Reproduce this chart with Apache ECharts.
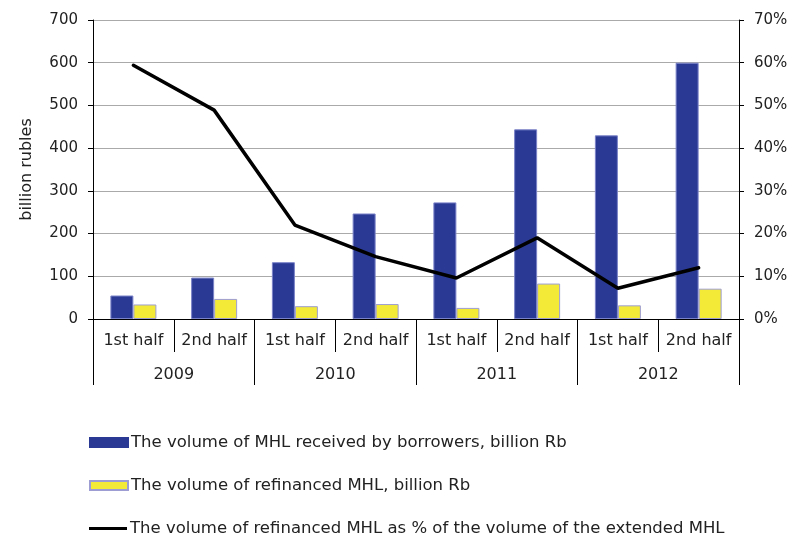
<!DOCTYPE html>
<html>
<head>
<meta charset="utf-8">
<script src="https://cdn.jsdelivr.net/npm/echarts@6/dist/echarts.min.js"></script>
<style>html,body{margin:0;padding:0;background:#fff}#c{width:798px;height:538px}</style>
</head>
<body>
<div id="c"></div>
<script>
var halves = ['1st half','2nd half','1st half','2nd half','1st half','2nd half','1st half','2nd half'];
var years = ['2009','2010','2011','2012'];
var received = [55, 97, 133, 247, 273, 444, 430, 600];
var refinanced = [34, 47, 30, 35, 26, 83, 32, 71];
var sharePct = [59.4, 48.9, 22.0, 14.6, 9.6, 19.0, 7.2, 12.0];
var leftTicks = [0, 700, 100];
var rightTicks = [0, 70, 10];
var names = ['The volume of MHL received by borrowers, billion Rb',
             'The volume of refinanced MHL, billion Rb',
             'The volume of refinanced MHL as % of the volume of the extended MHL'];

var font = 'DejaVu Sans';
function leg(i, top, icon, h, itemStyle) {
  var item = {name: names[i], icon: icon};
  if (itemStyle) item.itemStyle = itemStyle;
  return {
    orient: 'horizontal', left: 89, top: top, padding: 0,
    itemWidth: 38, itemHeight: h,
    textStyle: {fontFamily: font, fontSize: 16.5, color: '#222', padding: [0,0,0,-2]},
    data: [item]
  };
}
var chart = echarts.init(document.getElementById('c'));
chart.setOption({
  animation: false,
  textStyle: {fontFamily: font},
  grid: {left: 93, right: 59, top: 20, bottom: 219},
  legend: [leg(0, 434, 'rect', 9, {borderColor: '#2a3a94'}), leg(1, 477, 'rect', 9), leg(2, 520, 'rect', 3)],
  xAxis: [{
    type: 'category', data: halves, position: 'bottom',
    axisLine: {lineStyle: {color: '#000', width: 1}},
    axisTick: {show: true, length: 33, lineStyle: {color: '#000'}},
    axisLabel: {interval: 0, margin: 14, fontSize: 16, color: '#222', fontFamily: font}
  }, {
    type: 'category', data: years, position: 'bottom',
    axisLine: {show: false},
    axisTick: {show: true, length: 66, lineStyle: {color: '#000'}},
    axisLabel: {interval: 0, margin: 48, fontSize: 16, color: '#222', fontFamily: font}
  }],
  yAxis: [{
    type: 'value', min: leftTicks[0], max: leftTicks[1], interval: leftTicks[2],
    name: 'billion rubles', nameLocation: 'middle', nameGap: 58,
    nameTextStyle: {fontSize: 16, color: '#222', fontFamily: font},
    axisLine: {show: true, lineStyle: {color: '#000'}},
    axisTick: {show: true, length: 5, lineStyle: {color: '#000'}},
    axisLabel: {margin: 15, fontSize: 15, color: '#222', fontFamily: font},
    splitLine: {lineStyle: {color: '#aaa', width: 1}}
  }, {
    type: 'value', min: rightTicks[0], max: rightTicks[1], interval: rightTicks[2],
    position: 'right',
    axisLine: {show: true, lineStyle: {color: '#000'}},
    axisTick: {show: true, length: 5, lineStyle: {color: '#000'}},
    axisLabel: {margin: 15, fontSize: 15, color: '#222', fontFamily: font, formatter: '{value}%'},
    splitLine: {show: false}
  }],
  series: [{
    name: names[0], type: 'bar', data: received, xAxisIndex: 0, yAxisIndex: 0,
    barWidth: 23, barGap: '0%',
    itemStyle: {color: '#2a3a94', borderColor: '#7b83c8', borderWidth: 1}
  }, {
    name: names[1], type: 'bar', data: refinanced, xAxisIndex: 0, yAxisIndex: 0,
    barWidth: 23, barGap: '0%',
    itemStyle: {color: '#f2ea36', borderColor: '#9d9dd3', borderWidth: 1}
  }, {
    name: names[2], type: 'line', data: sharePct, xAxisIndex: 0, yAxisIndex: 1,
    symbol: 'none', lineStyle: {color: '#000', width: 3.5, cap: 'round'}, itemStyle: {color: '#000'}
  }]
});
</script>
</body>
</html>
